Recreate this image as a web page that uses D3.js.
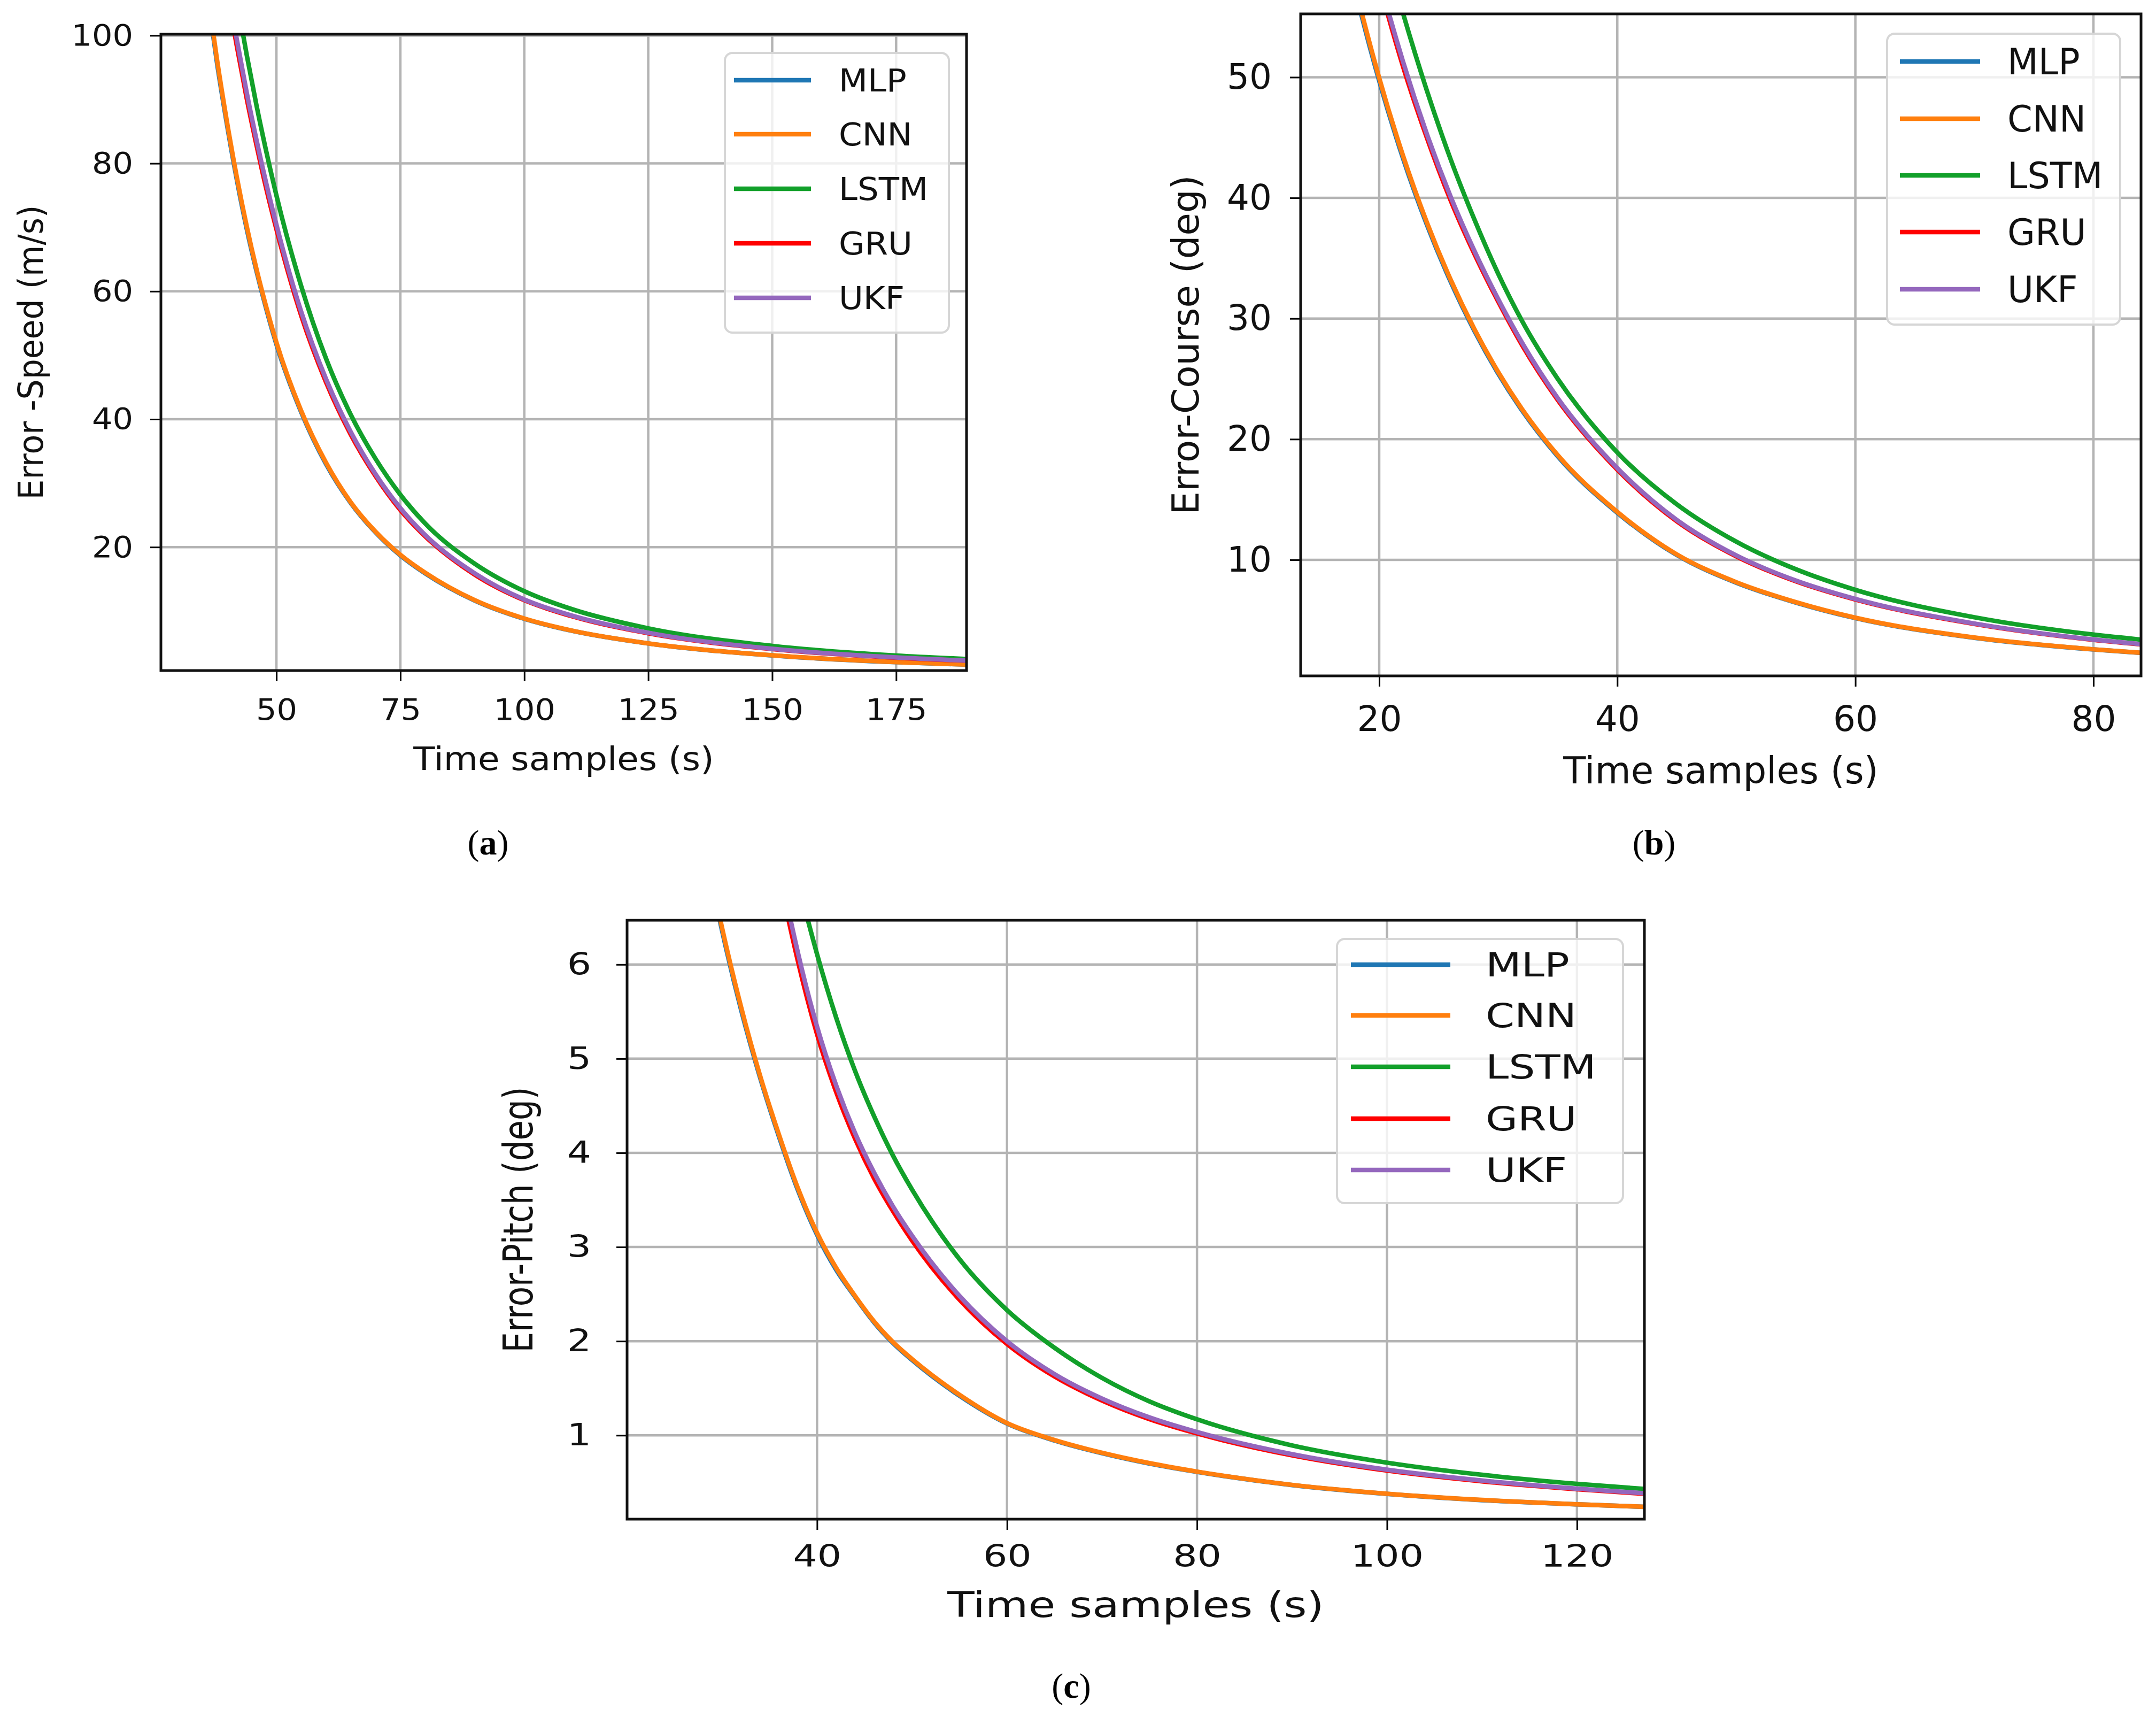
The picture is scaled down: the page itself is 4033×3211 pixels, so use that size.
<!DOCTYPE html>
<html>
<head>
<meta charset="utf-8">
<script src="https://cdn.jsdelivr.net/npm/d3@7"></script>
<style>
  html, body { margin: 0; padding: 0; background: #fff; }
  svg { display: block; }
</style>
</head>
<body>
<div id="chart"></div>
<script>
// series shared by the three panels
const seriesNames = ["MLP", "CNN", "LSTM", "GRU", "UKF"];
const seriesColors = ["#1f77b4", "#ff7f0e", "#12a02a", "#ff0000", "#9467bd"];

// (a) speed error
const speedTime = [34, 36, 38, 40, 42, 44, 46, 48, 50, 55, 60, 65, 70, 75, 80, 90, 100, 110, 125, 150, 175, 190];
const speedMLP  = [119.0, 106.8, 95.8, 86.2, 77.5, 69.8, 63.1, 57.1, 51.7, 41.1, 33.0, 26.9, 22.3, 18.7, 15.9, 11.65, 8.79, 6.85, 4.93, 3.07, 2.01, 1.61];
const speedCNN  = [119.6, 107.3, 96.3, 86.6, 77.9, 70.2, 63.4, 57.4, 52.0, 41.3, 33.2, 27.0, 22.4, 18.8, 16.0, 11.7, 8.83, 6.88, 4.95, 3.08, 2.02, 1.62];
const speedLSTM = [149.4, 137.0, 125.7, 115.3, 105.7, 97.0, 89.0, 81.7, 75.0, 60.8, 49.5, 40.7, 33.8, 28.2, 23.7, 17.4, 13.1, 10.2, 7.3, 4.55, 3.05, 2.48];
const speedGRU  = [138.8, 127.3, 116.8, 107.2, 98.4, 90.2, 82.8, 75.9, 69.7, 56.2, 45.8, 37.6, 31.1, 25.8, 21.7, 15.7, 11.7, 9.1, 6.53, 4.06, 2.71, 2.2];
const speedUKF  = [140.2, 128.6, 118.0, 108.3, 99.4, 91.1, 83.6, 76.7, 70.4, 56.8, 46.3, 38.0, 31.4, 26.1, 21.9, 15.9, 11.8, 9.2, 6.6, 4.1, 2.74, 2.22];
const speedXTicks = [50, 75, 100, 125, 150, 175];
const speedYTicks = [20, 40, 60, 80, 100];

// (b) course error
const courseTime = [16, 18, 20, 22, 24, 26, 28, 30, 32, 35, 40, 45, 50, 55, 60, 70, 80, 85];
const courseMLP  = [65.74, 57.15, 49.69, 43.28, 37.79, 33.05, 28.97, 25.43, 22.38, 18.58, 13.9, 10.4, 8.1, 6.46, 5.17, 3.54, 2.57, 2.21];
const courseCNN  = [66.07, 57.44, 49.94, 43.5, 37.98, 33.22, 29.11, 25.56, 22.49, 18.67, 13.97, 10.45, 8.14, 6.49, 5.2, 3.56, 2.58, 2.22];
const courseLSTM = [79.5, 70.4, 62.4, 55.3, 48.9, 43.2, 38.2, 33.7, 29.8, 25.0, 18.9, 14.6, 11.5, 9.22, 7.51, 5.24, 3.8, 3.29];
const courseGRU  = [74.3, 65.5, 57.8, 50.9, 45.0, 39.8, 35.35, 31.4, 27.8, 23.25, 17.48, 13.2, 10.29, 8.22, 6.71, 4.69, 3.37, 2.9];
const courseUKF  = [74.8, 66.0, 58.2, 51.3, 45.3, 40.1, 35.6, 31.6, 28.0, 23.4, 17.6, 13.3, 10.36, 8.28, 6.76, 4.72, 3.39, 2.92];
const courseXTicks = [20, 40, 60, 80];
const courseYTicks = [10, 20, 30, 40, 50];

// (c) pitch error
const pitchTime = [28, 30, 32, 34, 36, 38, 40, 42, 44, 46, 48, 50, 55, 60, 65, 70, 75, 80, 90, 100, 110, 120, 128];
const pitchMLP  = [7.33, 6.36, 5.52, 4.8, 4.17, 3.6, 3.13, 2.76, 2.47, 2.2, 1.98, 1.8, 1.42, 1.125, 0.945, 0.81, 0.70, 0.612, 0.472, 0.378, 0.312, 0.267, 0.237];
const pitchCNN  = [7.37, 6.39, 5.55, 4.82, 4.19, 3.62, 3.15, 2.78, 2.48, 2.21, 1.99, 1.81, 1.43, 1.13, 0.95, 0.815, 0.705, 0.615, 0.474, 0.38, 0.314, 0.268, 0.238];
const pitchLSTM = [13.0, 11.4, 10.0, 8.83, 7.8, 6.89, 6.11, 5.44, 4.87, 4.39, 3.97, 3.61, 2.87, 2.33, 1.93, 1.61, 1.36, 1.17, 0.893, 0.71, 0.581, 0.485, 0.424];
const pitchGRU  = [12.5, 10.83, 9.36, 8.09, 6.96, 6.03, 5.26, 4.65, 4.15, 3.73, 3.38, 3.07, 2.44, 1.97, 1.625, 1.37, 1.172, 1.02, 0.788, 0.626, 0.512, 0.428, 0.373];
const pitchUKF  = [12.7, 11.0, 9.5, 8.21, 7.07, 6.12, 5.34, 4.72, 4.21, 3.79, 3.43, 3.12, 2.48, 2.0, 1.65, 1.39, 1.19, 1.035, 0.80, 0.635, 0.52, 0.434, 0.379];
const pitchXTicks = [40, 60, 80, 100, 120];
const pitchYTicks = [1, 2, 3, 4, 5, 6];

const W = 4033, H = 3211;
const FONT = "'DejaVu Sans', sans-serif";

const svg = d3.select("#chart").append("svg")
  .attr("width", W).attr("height", H)
  .attr("viewBox", `0 0 ${W} ${H}`);
svg.append("rect").attr("width", W).attr("height", H).attr("fill", "#fff");

function drawPanel(p) {
  const g = svg.append("g");
  const x = d3.scaleLinear().domain(p.xDomain).range([p.left, p.right]);
  const y = d3.scaleLinear().domain(p.yDomain).range([p.bottom, p.top]);

  // grid
  g.append("g").selectAll("line").data(p.xTicks).join("line")
    .attr("x1", d => x(d)).attr("x2", d => x(d))
    .attr("y1", p.top).attr("y2", p.bottom)
    .attr("stroke", "#b4b4b4").attr("stroke-width", 4.5);
  g.append("g").selectAll("line").data(p.yTicks).join("line")
    .attr("x1", p.left).attr("x2", p.right)
    .attr("y1", d => y(d)).attr("y2", d => y(d))
    .attr("stroke", "#b4b4b4").attr("stroke-width", 4.5);

  // axes
  const xa = g.append("g")
    .attr("transform", `translate(0,${p.bottom})`)
    .call(d3.axisBottom(x).tickValues(p.xTicks).tickSize(20).tickPadding(p.xPad).tickFormat(d3.format("d")));
  const ya = g.append("g")
    .attr("transform", `translate(${p.left},0)`)
    .call(d3.axisLeft(y).tickValues(p.yTicks).tickSize(20).tickFormat(d3.format("d")));
  [xa, ya].forEach(a => {
    a.select(".domain").remove();
    a.attr("font-family", FONT).attr("font-size", p.tickFont);
    a.selectAll(".tick line").attr("stroke", "#000").attr("stroke-width", 3);
    a.selectAll("text").attr("fill", "#111").attr("transform", `scale(${p.sx},1)`);
  });
  ya.selectAll("text").attr("x", -p.yGap / p.sx);

  // curves
  const clipId = "clip-" + p.id;
  svg.append("clipPath").attr("id", clipId)
    .append("rect").attr("x", p.left).attr("y", p.top)
    .attr("width", p.right - p.left).attr("height", p.bottom - p.top);
  p.series.forEach((vals, i) => {
    const line = d3.line()
      .x((d, j) => x(p.time[j]))
      .y(d => y(d))
      .curve(d3.curveMonotoneX);
    g.append("path")
      .attr("clip-path", `url(#${clipId})`)
      .attr("d", line(vals))
      .attr("fill", "none")
      .attr("stroke", seriesColors[i])
      .attr("stroke-width", 8.5)
      .attr("stroke-linejoin", "round");
  });

  // frame
  g.append("rect")
    .attr("x", p.left).attr("y", p.top)
    .attr("width", p.right - p.left).attr("height", p.bottom - p.top)
    .attr("fill", "none").attr("stroke", "#111").attr("stroke-width", 5);

  // legend
  const L = p.legend;
  g.append("rect")
    .attr("x", L.x0).attr("y", L.y0)
    .attr("width", L.x1 - L.x0).attr("height", L.y1 - L.y0)
    .attr("rx", 14)
    .attr("fill", "#fff").attr("fill-opacity", 0.8)
    .attr("stroke", "#d6d6d6").attr("stroke-width", 4);
  seriesNames.forEach((name, i) => {
    const ly = L.rows[i];
    g.append("line")
      .attr("x1", L.h0).attr("x2", L.h1).attr("y1", ly).attr("y2", ly)
      .attr("stroke", seriesColors[i]).attr("stroke-width", 8.5);
    g.append("text")
      .attr("transform", `translate(${L.tx},${ly}) scale(${p.sx},1)`)
      .attr("dy", "0.36em")
      .attr("font-family", FONT).attr("font-size", L.font)
      .attr("fill", "#111")
      .text(name);
  });

  // axis titles
  g.append("text")
    .attr("transform", `translate(${(p.left + p.right) / 2},${p.xLabelY}) scale(${p.sx},1)`)
    .attr("text-anchor", "middle")
    .attr("font-family", FONT).attr("font-size", p.labelFont)
    .attr("fill", "#111")
    .text("Time samples (s)");
  g.append("text")
    .attr("transform", `translate(${p.yLabelX},${(p.top + p.bottom) / 2}) scale(${p.sx},1) rotate(-90)`)
    .attr("text-anchor", "middle")
    .attr("font-family", FONT).attr("font-size", p.yLabelFont)
    .attr("fill", "#111")
    .text(p.yLabel);

  // sub caption
  const cap = g.append("text")
    .attr("x", p.capX).attr("y", p.capY)
    .attr("text-anchor", "middle")
    .attr("font-family", "'Liberation Serif', 'Times New Roman', serif")
    .attr("font-size", 66).attr("fill", "#000");
  cap.append("tspan").text("(");
  cap.append("tspan").attr("font-weight", "bold").text(p.id);
  cap.append("tspan").text(")");
}

drawPanel({
  id: "a",
  left: 301, right: 1808, top: 64, bottom: 1254,
  xDomain: [26.7, 189.2], yDomain: [0.7, 100.2],
  xTicks: speedXTicks, yTicks: speedYTicks,
  time: speedTime,
  series: [speedMLP, speedCNN, speedLSTM, speedGRU, speedUKF],
  sx: 1.08, tickFont: 56, labelFont: 61, yLabelFont: 60,
  xPad: 32, yGap: 52,
  xLabelY: 1440, yLabelX: 80, yLabel: "Error -Speed (m/s)",
  legend: { x0: 1356, x1: 1775, y0: 99, y1: 622, rows: [150, 251, 353, 455, 557], h0: 1373, h1: 1517, tx: 1569, font: 58 },
  capX: 913, capY: 1598
});

drawPanel({
  id: "b",
  left: 2433, right: 4005, top: 26, bottom: 1264,
  xDomain: [13.4, 84.0], yDomain: [0.38, 55.25],
  xTicks: courseXTicks, yTicks: courseYTicks,
  time: courseTime,
  series: [courseMLP, courseCNN, courseLSTM, courseGRU, courseUKF],
  sx: 1.0, tickFont: 66, labelFont: 69, yLabelFont: 69,
  xPad: 36, yGap: 54,
  xLabelY: 1465, yLabelX: 2242, yLabel: "Error-Course (deg)",
  legend: { x0: 3530, x1: 3966, y0: 63, y1: 607, rows: [115, 222, 328, 434, 541], h0: 3554, h1: 3704, tx: 3755, font: 67 },
  capX: 3094, capY: 1598
});

drawPanel({
  id: "c",
  left: 1173, right: 3076, top: 1721, bottom: 2841,
  xDomain: [20, 127.1], yDomain: [0.11, 6.47],
  xTicks: pitchXTicks, yTicks: pitchYTicks,
  time: pitchTime,
  series: [pitchMLP, pitchCNN, pitchLSTM, pitchGRU, pitchUKF],
  sx: 1.25, tickFont: 57, labelFont: 66, yLabelFont: 61,
  xPad: 29, yGap: 67,
  xLabelY: 3024, yLabelX: 996, yLabel: "Error-Pitch (deg)",
  legend: { x0: 2501, x1: 3036, y0: 1756, y1: 2250, rows: [1804, 1899, 1995, 2092, 2188], h0: 2527, h1: 2713, tx: 2779, font: 62 },
  capX: 2004, capY: 3175
});
</script>
</body>
</html>
